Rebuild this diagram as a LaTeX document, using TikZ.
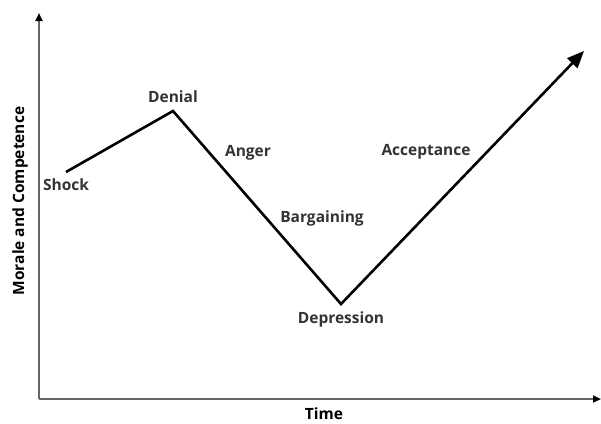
\documentclass[tikz,border=0pt]{standalone}
\usepackage{fontspec}
\setmainfont{Open Sans}
\usetikzlibrary{arrows.meta,positioning}

\begin{document}
\begin{tikzpicture}[x=1pt, y=-1pt, >=Latex,
  stage/.style={font=\bfseries\fontsize{15.5}{17}\selectfont, text=black!80},
  axislabel/.style={font=\bfseries\fontsize{15.5}{17}\selectfont},
  axis/.style={draw=black!60, line width=2pt, -{Triangle[length=8pt,width=7pt,color=black]}},
  curve/.style={line width=2.6pt, line join=miter, -{Triangle[length=17pt,width=14pt]}}]
\useasboundingbox (0,0) rectangle (601,423);

% axes
\coordinate (origin) at (39,399);
\coordinate (ytop) at (39,13);
\coordinate (xend) at (601,399);
\draw[axis] (origin) -- (ytop);
\draw[axis] (origin) -- (xend);

% stages of the curve
\coordinate (shock) at (66,172);
\coordinate (denial) at (173,111);
\coordinate (depression) at (341,304);
\coordinate (accept) at (584,51);
\draw[curve] (shock) -- (denial) -- (depression) -- (accept);

\node[stage] (shocklbl) at (66,185) {Shock};
\node[stage] (deniallbl) at (173,97) {Denial};
\node[stage] (angerlbl) at (248,153) {Anger};
\node[stage] (barglbl) at (322,218) {Bargaining};
\node[stage] (deplbl) at (341,319) {Depression};
\node[stage] (acclbl) at (426,152) {Acceptance};

\node[axislabel] (xlbl) at (324,414) {Time};
\node[axislabel, rotate=90] (ylbl) at (20,201) {Morale and Competence};
\end{tikzpicture}
\end{document}
